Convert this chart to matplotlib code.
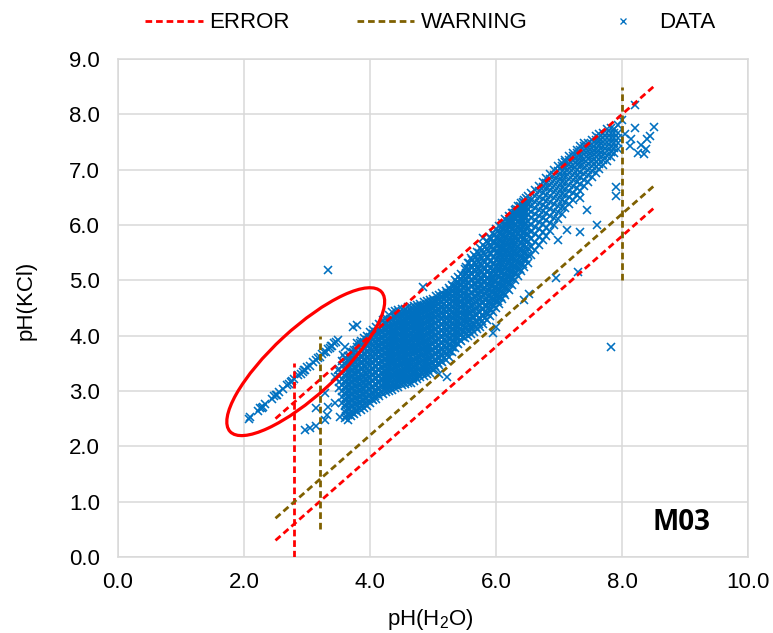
import matplotlib
matplotlib.use("Agg")
import matplotlib.pyplot as plt
from matplotlib.lines import Line2D
from matplotlib.patches import Ellipse
from matplotlib.transforms import ScaledTranslation

plt.rcParams["font.family"] = ["Liberation Sans", "DejaVu Sans"]
plt.rcParams["mathtext.fontset"] = "custom"
plt.rcParams["mathtext.rm"] = "Liberation Sans"

# threshold lines: (x0, y0, x1, y1)
error_lines = [(2.5, 2.5, 8.5, 8.5), (2.5, 0.3, 8.5, 6.3), (2.8, 0.0, 2.8, 3.5)]
warning_lines = [(2.5, 0.7, 8.5, 6.7), (3.2, 0.5, 3.2, 4.0), (8.0, 5.0, 8.0, 8.5)]

x_ticks = [0, 2, 4, 6, 8, 10]
y_ticks = [0, 1, 2, 3, 4, 5, 6, 7, 8, 9]

# thin line of samples inside the ellipse
trend_x = [2.08, 2.10, 2.22, 2.26, 2.28, 2.30, 2.33, 2.45, 2.48, 2.50, 2.52, 2.55, 2.62,
           2.68, 2.72, 2.74, 2.76, 2.80, 2.86, 2.90, 2.93, 2.95, 2.97, 3.00, 3.05, 3.10,
           3.14, 3.17, 3.20, 3.24, 3.27, 3.30, 3.33, 3.36, 3.38, 3.40, 3.43, 3.46, 3.49,
           3.73, 3.80]
trend_y = [2.50, 2.53, 2.63, 2.69, 2.70, 2.71, 2.76, 2.86, 2.91, 2.92, 2.93, 2.98, 3.03,
           3.11, 3.13, 3.17, 3.18, 3.21, 3.29, 3.31, 3.35, 3.38, 3.38, 3.43, 3.46, 3.53,
           3.56, 3.60, 3.62, 3.66, 3.70, 3.71, 3.76, 3.78, 3.81, 3.82, 3.86, 3.88, 3.92,
           4.16, 4.20]

# stragglers left of the main cloud
left_x = [2.97, 3.05, 3.15, 3.29, 3.31, 3.15, 3.29, 3.33, 3.44, 3.52, 3.44, 3.49, 3.57,
          3.60, 3.73, 3.84]
left_y = [2.30, 2.33, 2.36, 2.48, 2.57, 2.69, 2.96, 2.71, 2.78, 2.53, 3.26, 3.38, 3.65,
          3.80, 3.71, 3.87]

# scattered outliers
out_x = [3.33, 7.82, 4.84, 5.80, 6.96, 7.30, 7.12, 7.33, 7.60, 7.90, 7.90, 7.44, 7.33,
         6.98, 5.95, 6.00, 6.45, 6.52, 5.22, 5.10, 8.05, 8.15, 8.20, 8.25, 8.35, 8.40,
         8.45, 8.50, 8.30, 8.20, 8.12, 8.38, 8.00]
out_y = [5.19, 3.80, 4.88, 5.77, 5.04, 5.15, 5.91, 5.88, 6.00, 6.69, 6.53, 6.27, 6.49,
         5.73, 4.05, 4.15, 4.65, 4.75, 3.25, 3.30, 7.65, 7.55, 7.75, 7.30, 7.28, 7.55,
         7.60, 7.78, 7.45, 8.17, 7.42, 7.38, 7.90]

# dense cloud, read column by column: (pH(H2O), [pH(KCl) values])
cloud_cols = [
    (3.50, [3.06, 3.17, 3.28, 3.39]),
    (3.55, [2.78, 2.90, 3.00, 3.11, 3.22, 3.33, 3.45, 3.54]),
    (3.60, [2.51, 2.62, 2.72, 2.83, 2.95, 3.05, 3.16, 3.27, 3.38, 3.49, 3.60]),
    (3.65, [2.47, 2.57, 2.67, 2.78, 2.89, 3.00, 3.10, 3.21, 3.32, 3.43, 3.54, 3.64]),
    (3.70, [2.55, 2.62, 2.73, 2.84, 2.94, 3.05, 3.16, 3.26, 3.37, 3.48, 3.59, 3.70]),
    (3.75, [2.58, 2.68, 2.79, 2.89, 3.00, 3.11, 3.21, 3.32, 3.42, 3.53, 3.64, 3.75]),
    (3.80, [2.62, 2.73, 2.84, 2.95, 3.05, 3.16, 3.26, 3.37, 3.48, 3.58, 3.69, 3.80, 3.86]),
    (3.85, [2.66, 2.78, 2.89, 3.00, 3.10, 3.21, 3.31, 3.42, 3.52, 3.63, 3.74, 3.84, 3.90]),
    (3.90, [2.70, 2.83, 2.94, 3.04, 3.15, 3.26, 3.36, 3.47, 3.57, 3.68, 3.78, 3.89, 3.95]),
    (3.95, [2.73, 2.87, 2.98, 3.09, 3.20, 3.30, 3.41, 3.52, 3.62, 3.73, 3.83, 3.93, 4.00]),
    (4.00, [2.79, 2.92, 3.03, 3.14, 3.24, 3.35, 3.46, 3.56, 3.67, 3.77, 3.88, 3.98, 4.06]),
    (4.05, [2.83, 2.96, 3.07, 3.18, 3.29, 3.40, 3.50, 3.61, 3.71, 3.82, 3.92, 4.03, 4.11]),
    (4.10, [2.86, 2.99, 3.11, 3.23, 3.33, 3.44, 3.55, 3.65, 3.76, 3.86, 3.97, 4.07, 4.16]),
    (4.15, [2.91, 3.03, 3.15, 3.27, 3.38, 3.49, 3.59, 3.70, 3.80, 3.91, 4.01, 4.12, 4.21]),
    (4.20, [2.95, 3.07, 3.19, 3.31, 3.42, 3.53, 3.64, 3.74, 3.85, 3.95, 4.06, 4.17, 4.28]),
    (4.25, [2.98, 3.10, 3.22, 3.34, 3.46, 3.57, 3.68, 3.79, 3.89, 4.00, 4.10, 4.21, 4.32]),
    (4.30, [3.00, 3.13, 3.25, 3.37, 3.49, 3.61, 3.72, 3.83, 3.93, 4.04, 4.15, 4.26, 4.38]),
    (4.35, [3.02, 3.15, 3.28, 3.40, 3.52, 3.64, 3.75, 3.86, 3.97, 4.08, 4.19, 4.30, 4.42]),
    (4.40, [3.05, 3.18, 3.31, 3.43, 3.55, 3.67, 3.78, 3.89, 4.00, 4.11, 4.22, 4.33, 4.44]),
    (4.45, [3.07, 3.20, 3.33, 3.46, 3.58, 3.70, 3.81, 3.92, 4.03, 4.14, 4.25, 4.36, 4.46]),
    (4.50, [3.10, 3.23, 3.36, 3.48, 3.60, 3.72, 3.84, 3.95, 4.06, 4.17, 4.28, 4.38, 4.48]),
    (4.55, [3.12, 3.25, 3.38, 3.51, 3.63, 3.75, 3.87, 3.98, 4.09, 4.20, 4.30, 4.40, 4.49]),
    (4.60, [3.14, 3.27, 3.40, 3.53, 3.65, 3.77, 3.89, 4.01, 4.12, 4.23, 4.33, 4.43, 4.51]),
    (4.65, [3.15, 3.29, 3.42, 3.55, 3.68, 3.80, 3.92, 4.03, 4.14, 4.25, 4.35, 4.45, 4.52]),
    (4.70, [3.18, 3.31, 3.44, 3.57, 3.70, 3.82, 3.94, 4.06, 4.17, 4.28, 4.38, 4.47, 4.53]),
    (4.75, [3.22, 3.34, 3.47, 3.60, 3.72, 3.84, 3.96, 4.08, 4.19, 4.30, 4.40, 4.49, 4.55]),
    (4.80, [3.25, 3.37, 3.50, 3.62, 3.74, 3.86, 3.98, 4.10, 4.21, 4.32, 4.42, 4.51, 4.58]),
    (4.85, [3.28, 3.40, 3.52, 3.64, 3.76, 3.88, 4.00, 4.12, 4.23, 4.34, 4.44, 4.53, 4.60]),
    (4.90, [3.30, 3.43, 3.55, 3.67, 3.79, 3.91, 4.03, 4.14, 4.25, 4.36, 4.46, 4.55, 4.62]),
    (4.95, [3.33, 3.46, 3.58, 3.70, 3.82, 3.94, 4.06, 4.17, 4.28, 4.38, 4.48, 4.57, 4.64]),
    (5.00, [3.38, 3.50, 3.62, 3.74, 3.85, 3.97, 4.09, 4.20, 4.31, 4.41, 4.51, 4.60, 4.67]),
    (5.05, [3.42, 3.54, 3.66, 3.78, 3.89, 4.01, 4.12, 4.23, 4.34, 4.44, 4.54, 4.63, 4.71]),
    (5.10, [3.47, 3.59, 3.70, 3.82, 3.93, 4.04, 4.15, 4.26, 4.37, 4.47, 4.57, 4.66, 4.74]),
    (5.15, [3.52, 3.63, 3.75, 3.86, 3.97, 4.08, 4.19, 4.30, 4.40, 4.50, 4.60, 4.69, 4.77]),
    (5.20, [3.56, 3.68, 3.79, 3.90, 4.01, 4.12, 4.23, 4.34, 4.44, 4.54, 4.63, 4.72, 4.81]),
    (5.25, [3.62, 3.73, 3.84, 3.95, 4.06, 4.17, 4.28, 4.38, 4.48, 4.58, 4.67, 4.76, 4.86]),
    (5.30, [3.70, 3.80, 3.91, 4.01, 4.12, 4.22, 4.33, 4.43, 4.53, 4.63, 4.72, 4.81, 4.92]),
    (5.35, [3.78, 3.88, 3.98, 4.08, 4.18, 4.28, 4.38, 4.48, 4.58, 4.68, 4.78, 4.88, 5.00]),
    (5.40, [3.85, 3.95, 4.05, 4.15, 4.25, 4.35, 4.45, 4.55, 4.65, 4.75, 4.85, 4.95, 5.06]),
    (5.45, [3.90, 4.01, 4.11, 4.21, 4.31, 4.41, 4.51, 4.61, 4.71, 4.81, 4.91, 5.01, 5.11]),
    (5.50, [3.95, 4.06, 4.16, 4.27, 4.37, 4.47, 4.57, 4.67, 4.78, 4.88, 4.98, 5.09, 5.20]),
]

# the same cloud, samples lying between the columns above
cloud_mid_cols = [
    (3.625, [2.54, 2.65, 2.76, 2.87, 2.98, 3.09, 3.20, 3.31, 3.42, 3.53]),
    (3.675, [2.56, 2.67, 2.78, 2.89, 3.00, 3.11, 3.22, 3.33, 3.44, 3.55, 3.63]),
    (3.725, [2.61, 2.72, 2.83, 2.94, 3.05, 3.16, 3.27, 3.38, 3.49, 3.60, 3.68]),
    (3.775, [2.65, 2.76, 2.87, 2.98, 3.09, 3.20, 3.31, 3.42, 3.53, 3.64, 3.74]),
    (3.825, [2.69, 2.80, 2.91, 3.02, 3.13, 3.24, 3.35, 3.46, 3.57, 3.68, 3.79]),
    (3.875, [2.73, 2.84, 2.95, 3.06, 3.17, 3.28, 3.39, 3.50, 3.61, 3.72, 3.83]),
    (3.925, [2.77, 2.88, 2.99, 3.10, 3.21, 3.32, 3.43, 3.54, 3.65, 3.76, 3.87]),
    (3.975, [2.82, 2.93, 3.04, 3.15, 3.26, 3.37, 3.48, 3.59, 3.70, 3.81, 3.92]),
    (4.025, [2.86, 2.97, 3.08, 3.19, 3.30, 3.41, 3.52, 3.63, 3.74, 3.85, 3.96]),
    (4.075, [2.91, 3.02, 3.13, 3.24, 3.35, 3.46, 3.57, 3.68, 3.79, 3.90, 4.01]),
    (4.125, [2.95, 3.06, 3.17, 3.28, 3.39, 3.50, 3.61, 3.72, 3.83, 3.94, 4.05]),
    (4.175, [2.99, 3.10, 3.21, 3.32, 3.43, 3.54, 3.65, 3.76, 3.87, 3.98, 4.09, 4.18]),
    (4.225, [3.03, 3.14, 3.25, 3.36, 3.47, 3.58, 3.69, 3.80, 3.91, 4.02, 4.13, 4.23]),
    (4.275, [3.06, 3.17, 3.28, 3.39, 3.50, 3.61, 3.72, 3.83, 3.94, 4.05, 4.16, 4.27]),
    (4.325, [3.08, 3.19, 3.30, 3.41, 3.52, 3.63, 3.74, 3.85, 3.96, 4.07, 4.18, 4.31]),
    (4.375, [3.10, 3.21, 3.32, 3.43, 3.54, 3.65, 3.76, 3.87, 3.98, 4.09, 4.20, 4.33]),
    (4.425, [3.12, 3.23, 3.34, 3.45, 3.56, 3.67, 3.78, 3.89, 4.00, 4.11, 4.22, 4.35]),
    (4.475, [3.15, 3.26, 3.37, 3.48, 3.59, 3.70, 3.81, 3.92, 4.03, 4.14, 4.25, 4.37]),
    (4.525, [3.17, 3.28, 3.39, 3.50, 3.61, 3.72, 3.83, 3.94, 4.05, 4.16, 4.27, 4.39]),
    (4.575, [3.19, 3.30, 3.41, 3.52, 3.63, 3.74, 3.85, 3.96, 4.07, 4.18, 4.29, 4.41]),
    (4.625, [3.21, 3.32, 3.43, 3.54, 3.65, 3.76, 3.87, 3.98, 4.09, 4.20, 4.31, 4.42]),
    (4.675, [3.23, 3.34, 3.45, 3.56, 3.67, 3.78, 3.89, 4.00, 4.11, 4.22, 4.33, 4.43]),
    (4.725, [3.26, 3.37, 3.48, 3.59, 3.70, 3.81, 3.92, 4.03, 4.14, 4.25, 4.35, 4.45]),
    (4.775, [3.29, 3.40, 3.51, 3.62, 3.73, 3.84, 3.95, 4.06, 4.17, 4.28, 4.38, 4.47]),
    (4.825, [3.32, 3.43, 3.54, 3.65, 3.76, 3.87, 3.98, 4.09, 4.20, 4.31, 4.41, 4.50]),
    (4.875, [3.35, 3.46, 3.57, 3.68, 3.79, 3.90, 4.01, 4.12, 4.23, 4.34, 4.44, 4.52]),
    (4.925, [3.38, 3.49, 3.60, 3.71, 3.82, 3.93, 4.04, 4.15, 4.26, 4.37, 4.47, 4.55]),
    (4.975, [3.42, 3.53, 3.64, 3.75, 3.86, 3.97, 4.08, 4.19, 4.30, 4.40, 4.50, 4.58]),
    (5.025, [3.46, 3.57, 3.68, 3.79, 3.90, 4.01, 4.12, 4.23, 4.34, 4.44, 4.54, 4.62]),
    (5.075, [3.50, 3.61, 3.72, 3.83, 3.94, 4.05, 4.16, 4.27, 4.38, 4.48, 4.58, 4.65]),
    (5.125, [3.55, 3.66, 3.77, 3.88, 3.99, 4.10, 4.21, 4.32, 4.42, 4.52, 4.62, 4.69]),
    (5.175, [3.60, 3.71, 3.82, 3.93, 4.04, 4.15, 4.26, 4.37, 4.47, 4.57, 4.66, 4.73]),
    (5.225, [3.65, 3.76, 3.87, 3.98, 4.09, 4.20, 4.31, 4.42, 4.52, 4.62, 4.71, 4.77]),
    (5.275, [3.72, 3.83, 3.94, 4.05, 4.16, 4.27, 4.38, 4.48, 4.58, 4.68, 4.77, 4.83]),
    (5.325, [3.80, 3.90, 4.00, 4.10, 4.20, 4.30, 4.40, 4.50, 4.60, 4.70, 4.80, 4.90]),
    (5.375, [3.87, 3.97, 4.07, 4.17, 4.27, 4.37, 4.47, 4.57, 4.67, 4.77, 4.87, 4.97]),
    (5.425, [3.93, 4.03, 4.13, 4.23, 4.33, 4.43, 4.53, 4.63, 4.73, 4.83, 4.93, 5.03]),
    (5.475, [3.98, 4.08, 4.18, 4.28, 4.38, 4.48, 4.58, 4.68, 4.78, 4.88, 4.98, 5.08]),
]

# rising arm of the cloud
arm_cols = [
    (5.55, [4.00, 4.12, 4.24, 4.36, 4.48, 4.60, 4.72, 4.84, 4.96, 5.08, 5.20, 5.32]),
    (5.60, [4.03, 4.16, 4.29, 4.41, 4.53, 4.65, 4.77, 4.89, 5.01, 5.13, 5.26, 5.40]),
    (5.65, [4.07, 4.20, 4.33, 4.46, 4.58, 4.70, 4.82, 4.94, 5.06, 5.18, 5.31, 5.46]),
    (5.70, [4.12, 4.25, 4.38, 4.51, 4.63, 4.75, 4.87, 4.99, 5.11, 5.23, 5.37, 5.52]),
    (5.75, [4.16, 4.30, 4.43, 4.56, 4.68, 4.80, 4.92, 5.04, 5.16, 5.29, 5.43, 5.58]),
    (5.80, [4.21, 4.35, 4.48, 4.61, 4.73, 4.85, 4.97, 5.09, 5.22, 5.35, 5.49, 5.64]),
    (5.85, [4.28, 4.41, 4.54, 4.67, 4.79, 4.91, 5.03, 5.15, 5.28, 5.42, 5.56, 5.71]),
    (5.90, [4.35, 4.48, 4.61, 4.73, 4.85, 4.97, 5.09, 5.22, 5.35, 5.49, 5.63, 5.78]),
    (5.95, [4.42, 4.55, 4.67, 4.79, 4.91, 5.03, 5.16, 5.29, 5.42, 5.56, 5.70, 5.85]),
    (6.00, [4.50, 4.62, 4.74, 4.86, 4.98, 5.11, 5.24, 5.37, 5.50, 5.63, 5.77, 5.92]),
    (6.05, [4.58, 4.70, 4.82, 4.94, 5.07, 5.20, 5.33, 5.46, 5.59, 5.72, 5.85, 5.98]),
    (6.10, [4.66, 4.78, 4.90, 5.03, 5.16, 5.29, 5.42, 5.55, 5.68, 5.81, 5.93, 6.04]),
    (6.15, [4.74, 4.86, 4.99, 5.12, 5.25, 5.38, 5.51, 5.64, 5.77, 5.89, 6.00, 6.10]),
    (6.20, [4.82, 4.95, 5.08, 5.21, 5.34, 5.47, 5.60, 5.73, 5.85, 5.96, 6.07, 6.16]),
    (6.25, [4.91, 5.04, 5.17, 5.30, 5.43, 5.56, 5.69, 5.81, 5.93, 6.04, 6.14, 6.22]),
    (6.30, [5.00, 5.13, 5.26, 5.39, 5.52, 5.65, 5.77, 5.89, 6.00, 6.11, 6.21, 6.28]),
    (6.35, [5.08, 5.21, 5.34, 5.47, 5.60, 5.73, 5.85, 5.97, 6.08, 6.18, 6.27, 6.34]),
    (6.40, [5.16, 5.29, 5.42, 5.55, 5.68, 5.81, 5.93, 6.04, 6.15, 6.25, 6.33, 6.40]),
    (6.45, [5.24, 5.37, 5.50, 5.63, 5.76, 5.89, 6.01, 6.12, 6.22, 6.31, 6.39, 6.46]),
    (6.50, [5.32, 5.45, 5.58, 5.71, 5.84, 5.96, 6.08, 6.19, 6.29, 6.38, 6.45, 6.52]),
    (6.56, [5.45, 5.60, 5.75, 5.88, 6.00, 6.12, 6.24, 6.35, 6.46, 6.58]),
    (6.62, [5.55, 5.70, 5.84, 5.97, 6.09, 6.20, 6.31, 6.42, 6.53, 6.64]),
    (6.68, [5.64, 5.79, 5.93, 6.05, 6.17, 6.28, 6.39, 6.50, 6.61, 6.71]),
    (6.74, [5.72, 5.87, 6.01, 6.13, 6.25, 6.36, 6.47, 6.58, 6.68, 6.78]),
    (6.80, [5.80, 5.95, 6.09, 6.21, 6.33, 6.44, 6.55, 6.66, 6.76, 6.85]),
    (6.86, [5.90, 6.04, 6.17, 6.29, 6.41, 6.52, 6.63, 6.73, 6.83, 6.92]),
    (6.92, [6.00, 6.13, 6.26, 6.38, 6.49, 6.60, 6.71, 6.81, 6.91, 6.99]),
    (6.98, [6.10, 6.23, 6.35, 6.47, 6.58, 6.69, 6.79, 6.89, 6.98, 7.06]),
    (7.04, [6.20, 6.33, 6.45, 6.56, 6.67, 6.77, 6.87, 6.97, 7.06, 7.12]),
    (7.10, [6.30, 6.42, 6.54, 6.65, 6.76, 6.86, 6.96, 7.05, 7.13, 7.18]),
    (7.16, [6.38, 6.50, 6.62, 6.73, 6.84, 6.94, 7.03, 7.11, 7.18, 7.24]),
    (7.22, [6.46, 6.58, 6.70, 6.81, 6.91, 7.01, 7.09, 7.17, 7.24, 7.30]),
    (7.28, [6.54, 6.66, 6.78, 6.89, 6.99, 7.08, 7.16, 7.23, 7.30, 7.36]),
    (7.34, [6.62, 6.74, 6.86, 6.96, 7.06, 7.14, 7.22, 7.29, 7.36, 7.42]),
    (7.40, [6.70, 6.82, 6.93, 7.03, 7.12, 7.20, 7.28, 7.35, 7.42, 7.48]),
    (7.46, [6.78, 6.90, 7.00, 7.10, 7.19, 7.27, 7.34, 7.41, 7.48]),
    (7.52, [6.86, 6.97, 7.07, 7.16, 7.24, 7.32, 7.40, 7.47, 7.54]),
    (7.58, [6.94, 7.04, 7.13, 7.22, 7.30, 7.38, 7.46, 7.53, 7.60]),
    (7.64, [7.02, 7.11, 7.20, 7.28, 7.36, 7.44, 7.51, 7.58, 7.65]),
    (7.70, [7.08, 7.17, 7.26, 7.34, 7.42, 7.50, 7.58, 7.66]),
    (7.76, [7.15, 7.24, 7.33, 7.42, 7.50, 7.58, 7.66, 7.73]),
    (7.82, [7.22, 7.32, 7.41, 7.50, 7.58, 7.66, 7.75]),
    (7.88, [7.30, 7.40, 7.49, 7.58, 7.66, 7.74]),
    (7.94, [7.38, 7.48, 7.57, 7.66, 7.80]),
]

arm_mid_cols = [
    (5.525, [4.03, 4.14, 4.25, 4.36, 4.47, 4.58, 4.69, 4.80, 4.91, 5.02, 5.13, 5.25]),
    (5.575, [4.08, 4.19, 4.30, 4.41, 4.52, 4.63, 4.74, 4.85, 4.96, 5.07, 5.18, 5.31]),
    (5.625, [4.12, 4.23, 4.34, 4.45, 4.56, 4.67, 4.78, 4.89, 5.00, 5.11, 5.23, 5.37]),
    (5.675, [4.16, 4.27, 4.38, 4.49, 4.60, 4.71, 4.82, 4.93, 5.04, 5.16, 5.29, 5.43]),
    (5.725, [4.21, 4.32, 4.43, 4.54, 4.65, 4.76, 4.87, 4.98, 5.09, 5.21, 5.34, 5.49]),
    (5.775, [4.26, 4.37, 4.48, 4.59, 4.70, 4.81, 4.92, 5.03, 5.15, 5.27, 5.40, 5.55]),
    (5.825, [4.32, 4.43, 4.54, 4.65, 4.76, 4.87, 4.98, 5.09, 5.21, 5.33, 5.46, 5.61]),
    (5.875, [4.39, 4.50, 4.61, 4.72, 4.83, 4.94, 5.05, 5.16, 5.28, 5.40, 5.53, 5.68]),
    (5.925, [4.46, 4.57, 4.68, 4.79, 4.90, 5.01, 5.12, 5.23, 5.35, 5.47, 5.60, 5.75]),
    (5.975, [4.54, 4.65, 4.76, 4.87, 4.98, 5.09, 5.20, 5.31, 5.43, 5.55, 5.68, 5.82]),
    (6.025, [4.62, 4.73, 4.84, 4.95, 5.06, 5.17, 5.28, 5.40, 5.52, 5.64, 5.77, 5.89]),
    (6.075, [4.70, 4.81, 4.92, 5.03, 5.14, 5.25, 5.37, 5.49, 5.61, 5.73, 5.85, 5.96]),
    (6.125, [4.78, 4.89, 5.00, 5.11, 5.22, 5.34, 5.46, 5.58, 5.70, 5.82, 5.93, 6.02]),
    (6.175, [4.86, 4.97, 5.08, 5.19, 5.31, 5.43, 5.55, 5.67, 5.79, 5.90, 6.00, 6.08]),
    (6.225, [4.95, 5.06, 5.17, 5.28, 5.40, 5.52, 5.64, 5.76, 5.87, 5.98, 6.08, 6.15]),
    (6.275, [5.04, 5.15, 5.26, 5.38, 5.50, 5.62, 5.73, 5.84, 5.95, 6.05, 6.15, 6.22]),
    (6.325, [5.13, 5.24, 5.35, 5.47, 5.59, 5.70, 5.81, 5.92, 6.02, 6.12, 6.21, 6.29]),
    (6.375, [5.21, 5.32, 5.44, 5.56, 5.67, 5.78, 5.89, 6.00, 6.10, 6.19, 6.28, 6.35]),
    (6.425, [5.29, 5.41, 5.53, 5.64, 5.75, 5.86, 5.97, 6.07, 6.17, 6.26, 6.34, 6.42]),
    (6.475, [5.38, 5.50, 5.61, 5.72, 5.83, 5.94, 6.04, 6.14, 6.24, 6.32, 6.40, 6.48]),
]

RED = "#FF0000"
BROWN = "#7F6000"
BLUE = "#0070C0"
GRID = "#D9D9D9"
FS = 16


def main():
    data_x = trend_x + left_x + out_x
    data_y = trend_y + left_y + out_y
    for x, ys in cloud_cols + cloud_mid_cols + arm_cols + arm_mid_cols:
        data_x += [x] * len(ys)
        data_y += ys

    fig = plt.figure(figsize=(7.73, 6.33), dpi=100)
    ax = fig.add_axes([118 / 773, 1 - 557 / 633, 630 / 773, 498 / 633])

    ax.plot(data_x, data_y, "x", color=BLUE, markersize=5.6, markeredgewidth=1.15,
            zorder=3)

    dash = (0, (2.4, 1.4))
    for x0, y0, x1, y1 in error_lines:
        ax.plot([x0, x1], [y0, y1], color=RED, lw=2.0, linestyle=dash, zorder=4)
    for x0, y0, x1, y1 in warning_lines:
        ax.plot([x0, x1], [y0, y1], color=BROWN, lw=2.0, linestyle=dash, zorder=4)

    # ellipse marking the separate population, sized in pixels
    ell = Ellipse((0, 0), 2.06, 0.66, angle=42.7, fill=False, edgecolor=RED, lw=2.3,
                  transform=fig.dpi_scale_trans + ScaledTranslation(2.98, 3.53, ax.transData),
                  zorder=5)
    ax.add_patch(ell)

    ax.set_xlim(0, 10)
    ax.set_ylim(0, 9)
    ax.set_xticks(x_ticks)
    ax.set_yticks(y_ticks)
    ax.set_xticklabels([f"{v:.1f}" for v in x_ticks])
    ax.set_yticklabels([f"{v:.1f}" for v in y_ticks])
    ax.tick_params(axis="x", length=0, pad=11, labelsize=FS)
    ax.tick_params(axis="y", length=0, pad=13, labelsize=FS)
    ax.grid(True, color=GRID, lw=1.1, zorder=0)
    ax.set_axisbelow(True)
    for s in ax.spines.values():
        s.set_color(GRID)
        s.set_linewidth(1.1)

    fig.text(430 / 773, 1 - 620 / 633, r"pH(H$_{\mathrm{2}}$O)", ha="center", va="center",
             fontsize=FS)
    fig.text(26 / 773, 1 - 300 / 633, "pH(KCl)", ha="center", va="center",
             rotation=90, fontsize=FS)
    ax.text(8.95, 0.63, "M03", ha="center", va="center", fontsize=20,
            fontweight="bold", family=["Open Sans", "Liberation Sans"])

    handles = [
        Line2D([], [], color=RED, lw=2.0, linestyle=dash),
        Line2D([], [], color=BROWN, lw=2.0, linestyle=dash),
        Line2D([], [], color=BLUE, marker="x", linestyle="none", markersize=5,
               markeredgewidth=0.95),
    ]
    fig.legend(handles, ["ERROR", "WARNING", "DATA"], loc="center", ncol=3,
               bbox_to_anchor=(430 / 773, 1 - 23 / 633), frameon=False, fontsize=FS,
               handlelength=2.6, handletextpad=0.3, columnspacing=3.0)

    fig.savefig("out.png", dpi=100)


if __name__ == "__main__":
    main()
